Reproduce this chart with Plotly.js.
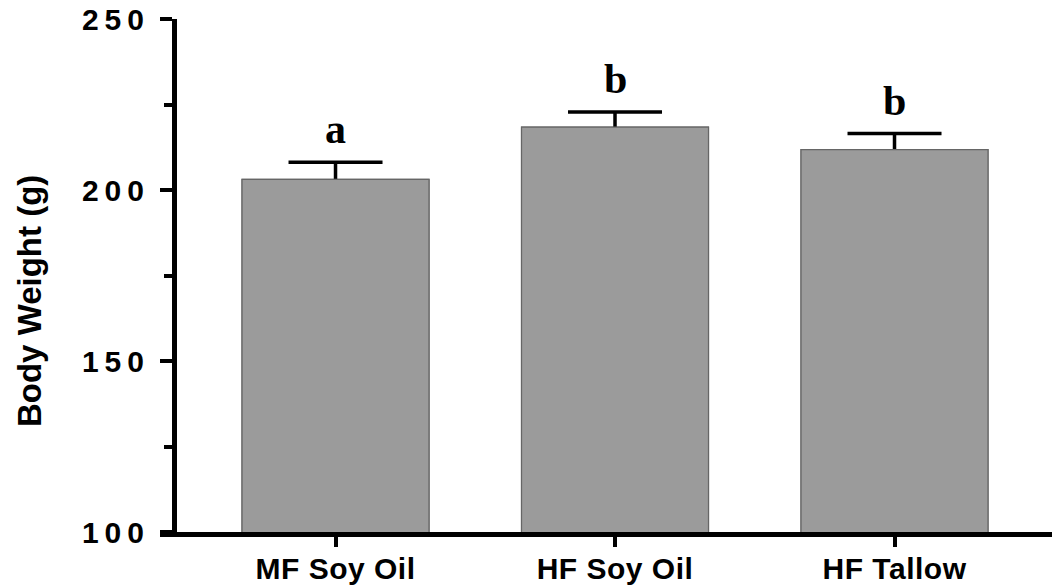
<!DOCTYPE html>
<html>
<head>
<meta charset="utf-8">
<script src="https://cdn.plot.ly/plotly-3.0.1.min.js"></script>
<style>
  html, body { margin: 0; padding: 0; background: #fff; }
  #chart { width: 1052px; height: 587px; }
  .yaxislayer-above .ytick text { letter-spacing: 6px; }
  .xaxislayer-above .xtick text { letter-spacing: 0.5px; }
</style>
</head>
<body>
<div id="chart"></div>
<script>
// Data
const groups = ["MF Soy Oil", "HF Soy Oil", "HF Tallow"];
const bodyWeight = [203.1, 218.4, 211.8];
const sem = [5.0, 4.4, 4.7];
const letters = ["a", "b", "b"];
const yTickVals = [100, 150, 200, 250];
const yTickText = ["100", "150", "200", "250"];
const yTitle = "Body Weight (g)";

const zeros = bodyWeight.map(() => 1);

const barBase = {
  type: "bar",
  x: groups,
  y: bodyWeight,
  width: 0.669,
  marker: { color: "#9b9b9b", line: { color: "#666666", width: 1.2 } },
  hoverinfo: "skip",
  showlegend: false
};

const traces = [
  Object.assign({}, barBase, {
    error_y: {
      type: "data",
      symmetric: false,
      array: sem,
      arrayminus: zeros,
      color: "#000000",
      thickness: 3.5,
      width: 47
    }
  }),
  Object.assign({}, barBase)
];

const annotations = groups.map((g, i) => ({
  x: g,
  y: bodyWeight[i] + sem[i],
  xref: "x",
  yref: "y",
  text: letters[i],
  showarrow: false,
  yanchor: "bottom",
  yshift: 8,
  font: { family: "Liberation Serif, Times New Roman, serif", size: 42, color: "#000", weight: "bold" }
}));

annotations.push({
  text: "<b>" + yTitle + "</b>",
  xref: "paper",
  yref: "paper",
  x: -0.147,
  y: 0.45,
  showarrow: false,
  textangle: -90,
  xanchor: "center",
  yanchor: "middle",
  font: { family: "Liberation Sans, Arial, sans-serif", size: 33, color: "#000" }
});

const layout = {
  width: 1052,
  height: 587,
  margin: { l: 160, r: 0, t: 18.5, b: 55, pad: 0 },
  paper_bgcolor: "#ffffff",
  plot_bgcolor: "#ffffff",
  barmode: "overlay",
  showlegend: false,
  xaxis: {
    type: "category",
    range: [-0.628, 2.5635],
    showgrid: false,
    zeroline: false,
    showline: true,
    linecolor: "#000",
    linewidth: 4.5,
    ticks: "outside",
    ticklen: 10,
    tickwidth: 4,
    tickcolor: "#000",
    ticklabelstandoff: -4,
    tickfont: { family: "Liberation Sans, Arial, sans-serif", size: 30, color: "#000", weight: "bold" },
    fixedrange: true
  },
  yaxis: {
    range: [100, 250],
    anchor: "free",
    position: 0.0157,
    showgrid: false,
    zeroline: false,
    showline: true,
    linecolor: "#000",
    linewidth: 4.5,
    ticks: "outside",
    ticklen: 12,
    tickwidth: 4,
    tickcolor: "#000",
    tickmode: "array",
    tickvals: yTickVals,
    ticktext: yTickText,
    ticklabelstandoff: 4,
    minor: { tickmode: "linear", tick0: 125, dtick: 50, ticks: "outside", ticklen: 8, tickwidth: 4, tickcolor: "#000", showgrid: false },
    tickfont: { family: "Liberation Sans, Arial, sans-serif", size: 30, color: "#000", weight: "bold" },
    fixedrange: true
  },
  annotations: annotations
};

Plotly.newPlot("chart", traces, layout, { displayModeBar: false, staticPlot: true });
</script>
</body>
</html>
